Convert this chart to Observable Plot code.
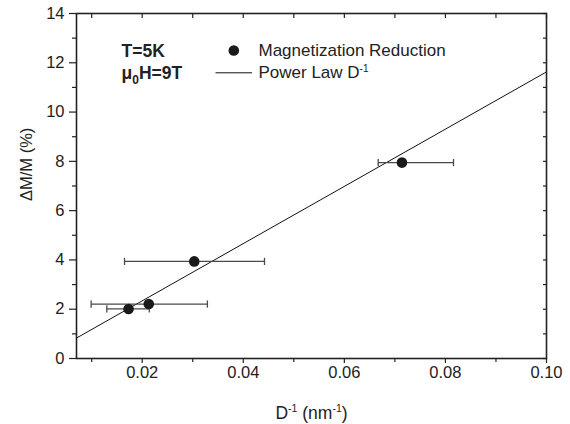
<!DOCTYPE html>
<html><head><meta charset="utf-8">
<script src="https://cdn.jsdelivr.net/npm/d3@7"></script>
<script src="https://cdn.jsdelivr.net/npm/@observablehq/plot@0.6"></script>
<style>
html,body{margin:0;padding:0;background:#fff;}
#chart svg{display:block;}
</style></head><body><div id="chart"></div>
<script>
// Data
const pointX = [0.0173, 0.0213, 0.0303, 0.0714];
const pointY = [2.01, 2.21, 3.94, 7.95];
const errLo  = [0.0130, 0.0099, 0.0165, 0.0667];
const errHi  = [0.0214, 0.0329, 0.0442, 0.0816];
const fitX = [0.007, 0.10];
const fitY = [0.83, 11.63];
const xMajorTicks = [0.02, 0.04, 0.06, 0.08, 0.10];
const xMinorTicks = [0.01, 0.03, 0.05, 0.07, 0.09];
const yMajorTicks = [0, 2, 4, 6, 8, 10, 12, 14];
const yMinorTicks = [1, 3, 5, 7, 9, 11, 13];

const points = pointX.map((x, i) => ({x, y: pointY[i], lo: errLo[i], hi: errHi[i]}));
const fit = fitX.map((x, i) => ({x, y: fitY[i]}));

const vbar = {draw(ctx, size) { const r = Math.sqrt(size / Math.PI); ctx.moveTo(0, -r); ctx.lineTo(0, r); }};
const hbar = {draw(ctx, size) { const r = Math.sqrt(size / Math.PI); ctx.moveTo(-r, 0); ctx.lineTo(r, 0); }};

const ink = "#222";
const errColor = "#4a4a4a";
const blank = () => "";
const font = "'Liberation Sans', Arial, Helvetica, sans-serif";

const plot = Plot.plot({
  width: 570, height: 424,
  marginLeft: 76, marginRight: 24, marginTop: 13, marginBottom: 66,
  style: {fontFamily: font, fontSize: "16px", color: ink, background: "#fff"},
  x: {domain: [0.007, 0.10]},
  y: {domain: [0, 14]},
  marks: [
    // axes
    Plot.axisX(xMajorTicks, {anchor: "bottom", tickSize: 5, tickPadding: 3, tickFormat: d3.format(".2f"), label: null, strokeWidth: 1.2, fontSize: 16.5}),
    Plot.axisX(xMinorTicks, {anchor: "bottom", tickSize: 4, tickFormat: blank, label: null, strokeWidth: 1.2}),
    Plot.axisX([...xMajorTicks, ...xMinorTicks], {anchor: "top", tickSize: -4, tickFormat: blank, label: null, strokeWidth: 1.2}),
    Plot.axisY(yMajorTicks, {anchor: "left", tickSize: 7, tickPadding: 5, label: null, strokeWidth: 1.2, fontSize: 16.5}),
    Plot.axisY(yMinorTicks, {anchor: "left", tickSize: 4, tickFormat: blank, label: null, strokeWidth: 1.2}),
    Plot.axisY([...yMajorTicks, ...yMinorTicks], {anchor: "right", tickSize: -4, tickFormat: blank, label: null, strokeWidth: 1.2}),
    Plot.frame({stroke: ink, strokeWidth: 1.6}),
    // fit line
    Plot.line(fit, {x: "x", y: "y", stroke: "#111", strokeWidth: 1}),
    // error bars
    Plot.link(points, {x1: "lo", x2: "hi", y1: "y", y2: "y", stroke: errColor, strokeWidth: 1.3}),
    Plot.dot(points, {x: "lo", y: "y", symbol: vbar, r: 3.6, fill: "none", stroke: errColor, strokeWidth: 1.3}),
    Plot.dot(points, {x: "hi", y: "y", symbol: vbar, r: 3.6, fill: "none", stroke: errColor, strokeWidth: 1.3}),
    // points
    Plot.dot(points, {x: "x", y: "y", r: 5.3, fill: "#1a1a1a", stroke: "none"}),
    // axis labels
    Plot.text(["D-1 (nm-1)"], {x: null, y: null, text: d => d, frameAnchor: "bottom", lineAnchor: "middle", dy: 55, fontSize: 17.5, fill: ink}),
    Plot.text(["ΔM/M (%)"], {x: null, y: null, text: d => d, frameAnchor: "left", lineAnchor: "middle", dx: -50, dy: 15, rotate: -90, fontSize: 16.5, fill: ink}),
    // annotations
    Plot.text(["T=5K"], {x: null, y: null, text: d => d, frameAnchor: "top-left", lineAnchor: "middle", dx: 45, dy: 37.5, textAnchor: "start", fontSize: 17.5, fontWeight: "bold", fill: ink}),
    Plot.text(["μ0H=9T"], {x: null, y: null, text: d => d, frameAnchor: "top-left", lineAnchor: "middle", dx: 45, dy: 59.5, textAnchor: "start", fontSize: 17.5, fontWeight: "bold", fill: ink}),
    // legend
    Plot.dot([0], {x: null, y: null, frameAnchor: "top-left", dx: 157.3, dy: 37, r: 5.3, fill: "#1a1a1a", stroke: "none"}),
    Plot.dot([0], {x: null, y: null, frameAnchor: "top-left", dx: 157.3, dy: 59.3, symbol: hbar, r: 18.3, fill: "none", stroke: "#111", strokeWidth: 1}),
    Plot.text(["Magnetization Reduction"], {x: null, y: null, text: d => d, frameAnchor: "top-left", lineAnchor: "middle", dx: 182, dy: 37.5, textAnchor: "start", fontSize: 17, fill: ink}),
    Plot.text(["Power Law D-1"], {x: null, y: null, text: d => d, frameAnchor: "top-left", lineAnchor: "middle", dx: 182, dy: 59.5, textAnchor: "start", fontSize: 17, fill: ink})
  ]
});

function rich(svg, plain, html) {
  d3.select(svg).selectAll("text")
    .filter(function() { return this.textContent === plain; })
    .each(function() { this.innerHTML = html; });
}
rich(plot, "μ0H=9T", 'μ<tspan dy="5" font-size="12">0</tspan><tspan dy="-5">H=9T</tspan>');
rich(plot, "Power Law D-1", 'Power Law D<tspan dy="-6" font-size="10">-1</tspan>');
rich(plot, "D-1 (nm-1)", 'D<tspan dy="-7" font-size="10.5">-1</tspan><tspan dy="7"> (nm</tspan><tspan dy="-7" font-size="10.5">-1</tspan><tspan dy="7">)</tspan>');

document.getElementById("chart").appendChild(plot);
</script>
</body></html>
